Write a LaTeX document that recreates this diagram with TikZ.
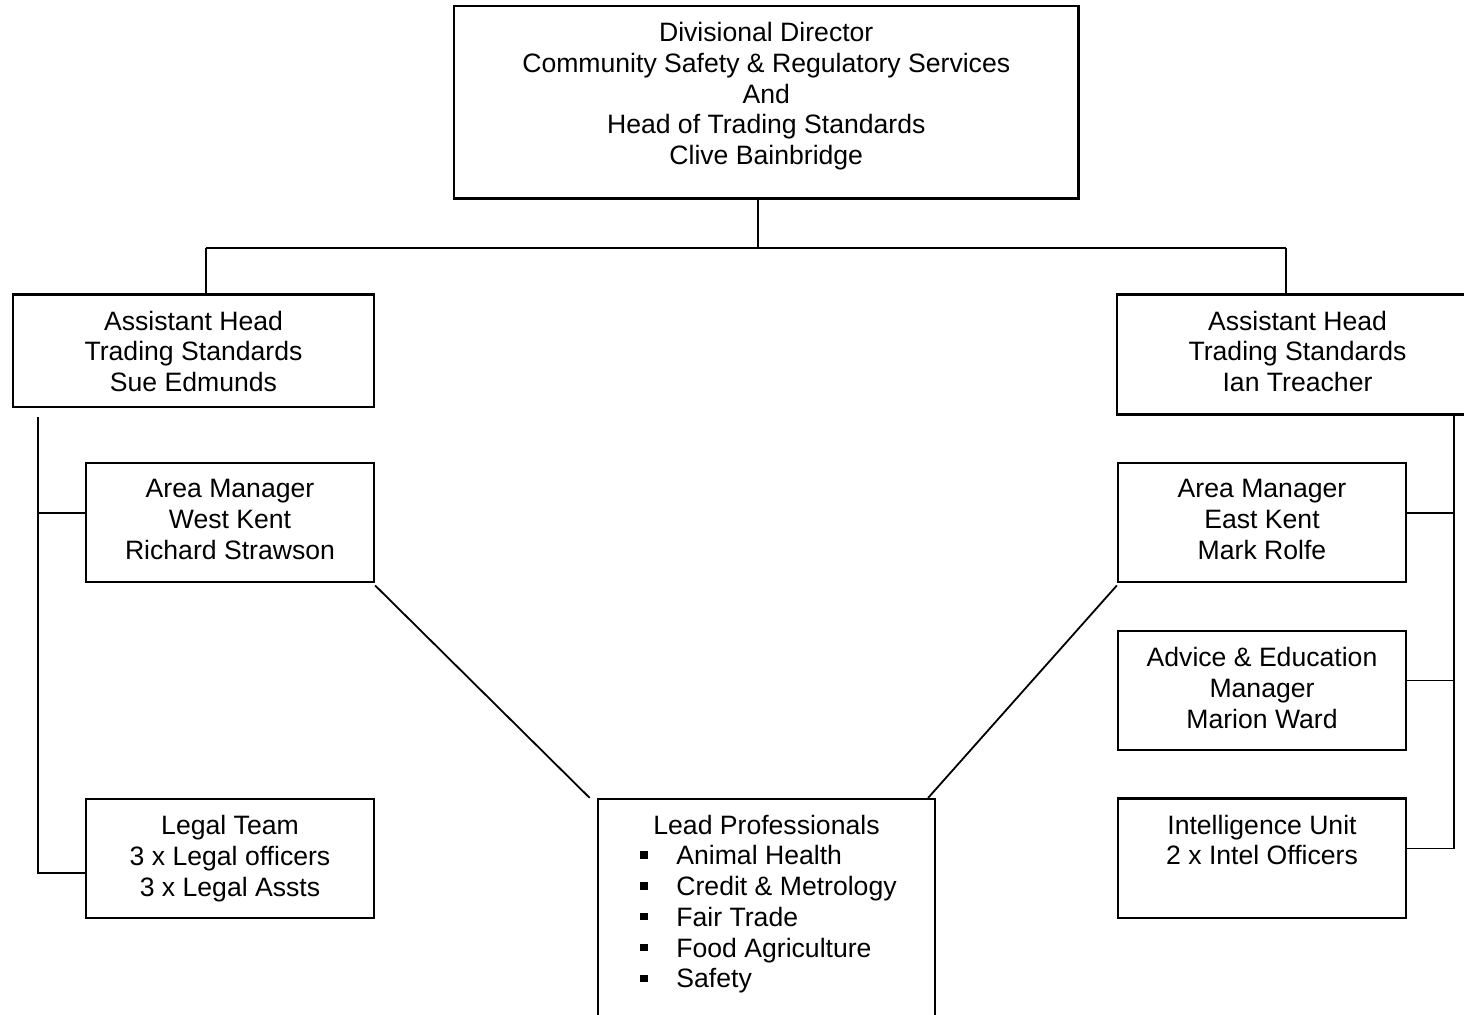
\documentclass[tikz,border=0pt]{standalone}
\usepackage{fontspec}
\setmainfont{Liberation Sans}
\usetikzlibrary{fit, positioning}

\tikzset{
  post/.style={draw, line width=1.1pt, inner sep=0pt},
  posttext/.style={align=center, inner sep=0pt, anchor=north,
    font=\fontsize{13.3}{15.4}\selectfont},
  link/.style={line width=0.9pt},
}
\newcommand{\sqbullet}{\makebox[18pt][l]{\raisebox{2.9pt}{\rule{3.7pt}{3.7pt}}}}

\begin{document}
\begin{tikzpicture}[x=0.5pt, y=-0.5pt]
    \useasboundingbox[fill=white] (0,0) rectangle (1464,1014);

    % boxes
    \node[post, fit={(454,6) (1078.5,198.5)}] (dir) {};
    \node[post, fit={(13,294.5) (374,407)}] (ahw) {};
    \node[post, fit={(1117,294.5) (1478,414.5)}] (ahe) {};
    \node[post, fit={(86,463) (374,582.3)}] (westk) {};
    \node[post, fit={(86,799) (374,918)}] (legal) {};
    \node[post, fit={(1118,463) (1406,582.3)}] (eastk) {};
    \node[post, fit={(1118,631) (1406,750)}] (advice) {};
    \node[post, fit={(1118,798.5) (1406,918.3)}] (intel) {};
    \node[post, fit={(598,799) (935,1040)}] (lead) {};

    % texts
    \node[posttext, below=8.5pt of dir.north] (dirtext)
      {Divisional Director\\Community Safety \& Regulatory Services\\And\\
       Head of Trading Standards\\Clive Bainbridge};
    \node[posttext, below=8.5pt of ahw.north] (ahwtext)
      {Assistant Head\\Trading Standards\\Sue Edmunds};
    \node[posttext, below=8.5pt of ahe.north] (ahetext)
      {Assistant Head\\Trading Standards\\Ian Treacher};
    \node[posttext, below=8.5pt of westk.north] (westktext)
      {Area Manager\\West Kent\\Richard Strawson};
    \node[posttext, below=8.5pt of legal.north] (legaltext)
      {Legal Team\\3 x Legal officers\\3 x Legal Assts};
    \node[posttext, below=8.5pt of eastk.north] (eastktext)
      {Area Manager\\East Kent\\Mark Rolfe};
    \node[posttext, below=8.5pt of advice.north] (advicetext)
      {Advice \& Education\\Manager\\Marion Ward};
    \node[posttext, below=8.5pt of intel.north] (inteltext)
      {Intelligence Unit\\2 x Intel Officers};
    \node[posttext, below=8.5pt of lead.north] (leadtext)
      {Lead Professionals};
    \node[posttext, align=left, anchor=north west] (leadlist) at (640,845)
      {\sqbullet Animal Health\\\sqbullet Credit \& Metrology\\
       \sqbullet Fair Trade\\\sqbullet Food Agriculture\\\sqbullet Safety};

    % connectors
    \coordinate (dirout) at ([xshift=-4pt]dir.south);
    \coordinate (busw) at (206,248);
    \coordinate (buse) at (1286,248);
    \coordinate (spinew) at (38,417);
    \coordinate (spinee) at (1454,416);
    \draw[link] (dirout) -- (dirout |- busw);
    \draw[link] (busw) -- (buse);
    \draw[link] (busw) -- (busw |- ahw.north);
    \draw[link] (buse) -- (buse |- ahe.north);

    \draw[link] (spinew) |- ([yshift=-7.25pt]legal.west);
    \draw[link] ([yshift=5pt]westk.west) -- ([yshift=5pt]westk.west -| spinew);
    \draw[link] (spinee) |- ([yshift=5pt]intel.east);
    \draw[link] ([yshift=5pt]eastk.east) -- ([yshift=5pt]eastk.east -| spinee);
    \draw[link] ([yshift=5pt]advice.east) -- ([yshift=5pt]advice.east -| spinee);

    \draw[link] ([yshift=-1pt]westk.south east) -- ([xshift=-3.6pt]lead.north west);
    \draw[link] ([yshift=-1pt]eastk.south west) -- ([xshift=-4pt]lead.north east);
\end{tikzpicture}
\end{document}
